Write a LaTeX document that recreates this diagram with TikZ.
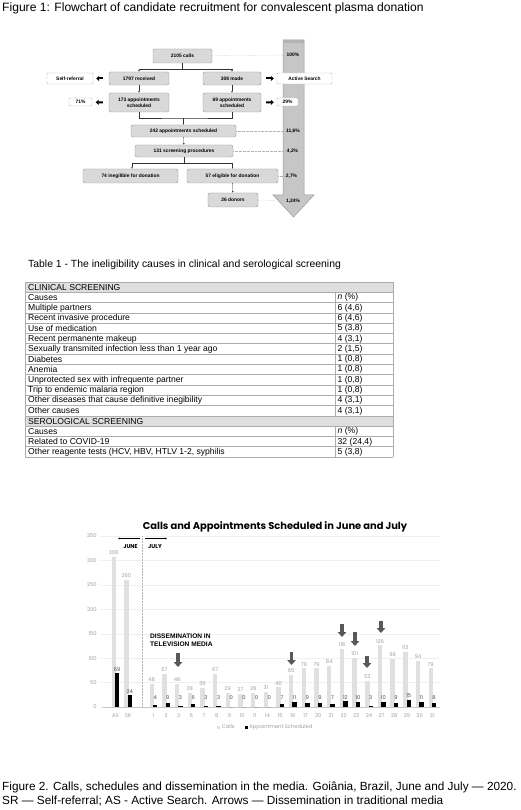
\documentclass[tikz,border=0pt]{standalone}
\usepackage{fontspec}
\setmainfont{Liberation Sans}
\newfontfamily\chartfont{Poppins}
\usetikzlibrary{arrows.meta}

\begin{document}
\begin{tikzpicture}[x=1pt, y=-1pt, >=Latex, font=\fontsize{4.5}{5.4}\selectfont,
  flowbox/.style={draw=gray!80, fill=gray!30, rounded corners=1.5pt, align=center, inner sep=0pt, font=\fontsize{4.9}{5.8}\selectfont\bfseries},
  sidebox/.style={draw=gray!55, fill=white, rounded corners=1pt, inner sep=0pt, font=\fontsize{4.9}{5.8}\selectfont\bfseries},
  pct/.style={inner sep=0.5pt, font=\fontsize{4.9}{5.8}\selectfont\bfseries},
  link/.style={draw=black!80, line width=0.35pt, -{Latex[length=1.6pt,width=1.6pt]}},
  fatarrow/.style={line width=2pt, -{Triangle[length=3pt,width=5pt]}},
  guide/.style={draw=gray!60, densely dotted, line width=0.35pt},
  tabline/.style={draw=gray!65, line width=0.7pt},
  cell/.style={inner sep=0pt, anchor=west, font=\fontsize{8.6}{9}\selectfont},
  numlabel/.style={inner sep=0.6pt, text=gray!75, font=\chartfont\fontsize{5.2}{6}\selectfont},
  gridline/.style={draw=gray!12, line width=0.4pt},
  tvarrow/.style={line width=3.2pt, draw=black!65, -{Triangle[length=5pt,width=8.5pt]}}]

\fill[white] (0,0) rectangle (520,810);
\useasboundingbox (0,0) rectangle (520,810);

\node[anchor=west, inner sep=0pt, font=\fontsize{12.1}{14}\selectfont] (fig1) at (2,8) {Figure 1: Flowchart of candidate recruitment for convalescent plasma donation};

% big arrow of percentages
\draw[fill=gray!45, draw=gray!80, line width=0.5pt] (283,40) -- (304,40) -- (304,195) -- (314,195) -- (293.5,217) -- (273,195) -- (283,195) -- cycle;
\fill[gray!60] (283.3,40.3) rectangle (303.7,43);

\node[flowbox, minimum width=59pt, minimum height=14pt] (calls) at (182.5,56) {2105 calls};
\node[flowbox, minimum width=60pt, minimum height=13pt] (recv) at (139,78.5) {1797 received};
\node[flowbox, minimum width=58pt, minimum height=13pt] (made) at (232,78.5) {308 made};
\node[sidebox, minimum width=46pt, minimum height=11pt] (selfref) at (70,78.5) {Self-referral};
\node[sidebox, minimum width=55pt, minimum height=11pt] (active) at (304.5,78.5) {Active Search};
\node[flowbox, minimum width=60pt, minimum height=19pt] (apptA) at (139,102.5) {173 appointments\\scheduled};
\node[flowbox, minimum width=58pt, minimum height=19pt] (apptB) at (232,102.5) {69 appointments\\scheduled};
\node[sidebox, minimum width=23pt, minimum height=8pt] (pctA) at (80.5,102) {71\%};
\node[sidebox, minimum width=21pt, minimum height=8pt] (pctB) at (287.5,102) {29\%};
\node[flowbox, minimum width=105pt, minimum height=12pt] (sched) at (183.5,131) {242 appointments scheduled};
\node[flowbox, minimum width=98pt, minimum height=12pt] (screen) at (184,151) {131 screening procedures};
\node[flowbox, minimum width=95pt, minimum height=14pt] (inelig) at (130.5,176) {74 inegilible for donation};
\node[flowbox, minimum width=91pt, minimum height=14pt] (elig) at (232.5,176) {57 eligible for donation};
\node[flowbox, minimum width=50pt, minimum height=14pt] (donors) at (233,200) {26 donors};

\node[pct] (p100) at (293,55) {100\%};
\node[pct] (p116) at (293,131) {11,6\%};
\node[pct] (p42) at (292.5,151) {4,2\%};
\node[pct] (p27) at (291.5,176) {2,7\%};
\node[pct] (p124) at (293,201) {1,24\%};

\draw[link] (calls.south) -- ++(0,5.5) -| (recv.north);
\draw[link] (calls.south) -- ++(0,5.5) -| (made.north);
\draw[link] (recv) -- (apptA);
\draw[link] (made) -- (apptB);
\coordinate (join) at (183.5,118);
\draw[draw=black!80, line width=0.35pt] (apptA.south) |- (join) -| (apptB.south);
\draw[link] (join) -- (sched.north);
\draw[link] (sched) -- (screen);
\draw[link] (screen.south) -- ++(0,6) -| ([xshift=1.5pt]inelig.north);
\draw[link] (screen.south) -- ++(0,6) -| (elig.north);
\draw[link] (elig) -- (donors);

\draw[fatarrow, shorten <=6pt, shorten >=3pt] (recv) -- (selfref);
\draw[fatarrow, shorten <=5pt, shorten >=3pt] (made) -- (active);
\draw[fatarrow, shorten <=6pt, shorten >=3.5pt] (apptA.west) -- (pctA);
\draw[fatarrow, shorten <=5pt, shorten >=3pt] (apptB.east) -- (pctB);

\draw[guide] (calls) -- (p100);
\draw[guide] (sched) -- (p116);
\draw[guide] (screen) -- (p42);
\draw[guide] (elig) -- (p27);
\draw[guide] (donors) -- (p124);

% table
\node[anchor=west, inner sep=0pt, font=\fontsize{10.4}{12}\selectfont] (tab1) at (28,265) {Table 1 - The ineligibility causes in clinical and serological screening};
\fill[gray!25] (25,282) rectangle (393,292.3);
\fill[gray!25] (25,415.9) rectangle (393,426.2);
\foreach \r in {0,...,17}
  \draw[tabline] (25,282+10.3*\r) -- (393,282+10.3*\r);
\draw[tabline] (25,282) -- (25,457.1);
\draw[tabline] (393,282) -- (393,457.1);
\draw[tabline] (335,292.3) -- (335,415.9);
\draw[tabline] (335,426.2) -- (335,457.1);
\node[cell] (h0) at (28,287.3) {CLINICAL SCREENING};
\node[cell] (h13) at (28,421.2) {SEROLOGICAL SCREENING};
\foreach \r/\cause/\val in {1/Causes/{\itshape n\upshape\ (\%)}, 2/Multiple partners/{6 (4,6)},
  3/Recent invasive procedure/{6 (4,6)}, 4/Use of medication/{5 (3,8)},
  5/Recent permanente makeup/{4 (3,1)}, 6/Sexually transmited infection less than 1 year ago/{2 (1,5)},
  7/Diabetes/{1 (0,8)}, 8/Anemia/{1 (0,8)}, 9/Unprotected sex with infrequente partner/{1 (0,8)},
  10/Trip to endemic malaria region/{1 (0,8)}, 11/Other diseases that cause definitive inegibility/{4 (3,1)},
  12/Other causes/{4 (3,1)}, 14/Causes/{\itshape n\upshape\ (\%)}, 15/Related to COVID-19/{32 (24,4)},
  16/{Other reagente tests (HCV, HBV, HTLV 1-2, syphilis}/{5 (3,8)}}{
  \node[cell] (c\r) at (28,287.3+10.3*\r) {\cause};
  \node[cell] (v\r) at (337.5,287.3+10.3*\r) {\val};
}

% chart
\node[font=\chartfont\bfseries\fontsize{9.9}{11}\selectfont, inner sep=0pt] (ctitle) at (275,527) {Calls and Appointments Scheduled in June and July};
\foreach \v in {0,50,...,350}{
  \draw[gridline] (100,707-0.4886*\v) -- (440,707-0.4886*\v);
  \node[numlabel, anchor=east] (y\v) at (97.5,707-0.4886*\v) {\v};
}
\draw[gray!45, line width=0.5pt] (103,707) -- (440,707);
\draw[gray!60, densely dotted, line width=0.5pt] (142,536) -- (142,707);
\draw[-{Latex[length=2pt,width=2pt]}, line width=0.5pt] (140,538.5) -- (118,538.5);
\draw[-{Latex[length=2pt,width=2pt]}, line width=0.5pt] (145,538.5) -- (167,538.5);
\node[font=\chartfont\bfseries\fontsize{5.6}{6}\selectfont, inner sep=0pt] (june) at (130.5,546.5) {JUNE};
\node[font=\chartfont\bfseries\fontsize{5.6}{6}\selectfont, inner sep=0pt] (july) at (155,546.5) {JULY};

\foreach \i/\lab/\c/\a in {0/AS/308/69, 1/SR/260/24, 3/1/48/4, 4/2/67/9, 5/3/48/3, 6/6/28/6,
  7/7/39/3, 8/8/67/3, 9/9/29/0, 10/10/27/0, 11/11/28/0, 12/14/31/0, 13/15/40/7, 14/16/65/11,
  15/17/79/9, 16/20/79/9, 17/21/84/7, 18/22/118/12, 19/23/101/10, 20/24/53/3, 21/27/126/10,
  22/28/98/9, 23/29/113/15, 24/30/94/11, 25/31/79/8}{
  \pgfmathsetmacro\cx{115.3+12.68*\i}
  \pgfmathsetmacro\ct{707-0.4886*\c}
  \pgfmathsetmacro\at{707-0.4886*\a}
  \pgfmathsetmacro\al{min(\at,701.5)}
  \fill[gray!24] (\cx-3.8,707) rectangle (\cx+0.6,\ct);
  \fill[black] (\cx-0.4,707) rectangle (\cx+4,\at);
  \node[numlabel, above=1.5pt] (cl\i) at (\cx-1.6,\ct) {\c};
  \node[numlabel, text=black!70, above=1.2pt] (al\i) at (\cx+1.8,\al) {\a};
  \node[numlabel] (xl\i) at (\cx,715.5) {\lab};
}

\node[font=\bfseries\fontsize{6.6}{7.6}\selectfont, align=left, anchor=north west, inner sep=0pt] (tvnote) at (150,634) {DISSEMINATION IN\\TELEVISION MEDIA};
\draw[tvarrow] (178,653) -- (178,667);
\draw[tvarrow] (291.5,652) -- (291.5,665);
\draw[tvarrow] (342,624) -- (342,637);
\draw[tvarrow] (355,632) -- (355,646);
\draw[tvarrow] (367,656) -- (367,668);
\draw[tvarrow] (381,621) -- (381,633);

\fill[gray!24] (217,725.5) rectangle (220,728.5);
\node[numlabel, anchor=west] (lcalls) at (221,727) {Calls};
\fill[black] (244.5,725.5) rectangle (247.5,728.5);
\node[numlabel, anchor=west] (lappt) at (248.5,727) {Appointment Scheduled};

% caption
\node[anchor=north west, align=left, inner sep=0pt, font=\fontsize{11.8}{13.2}\selectfont] (fig2) at (2,782) {Figure 2. Calls, schedules and dissemination in the media. Goi\^ania, Brazil, June and July --- 2020.\\SR --- Self-referral; AS - Active Search. Arrows --- Dissemination in traditional media};
\end{tikzpicture}
\end{document}
